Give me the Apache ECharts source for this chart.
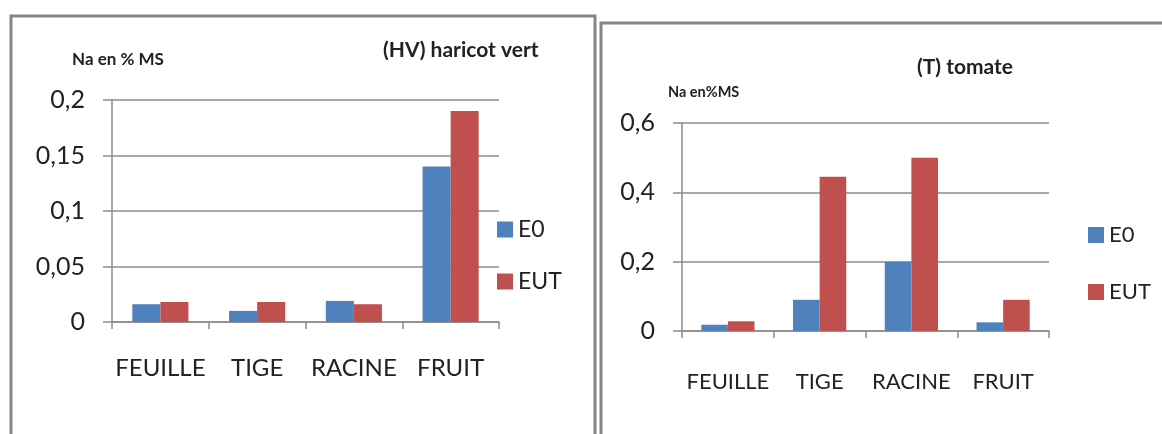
<!DOCTYPE html>
<html>
<head>
<meta charset="utf-8">
<script src="https://cdn.jsdelivr.net/npm/echarts@6/dist/echarts.min.js"></script>
<style>
  html, body { margin: 0; padding: 0; background: #fff; }
  #chart { width: 1162px; height: 434px; }
</style>
</head>
<body>
<div id="chart"></div>
<script>
// données (Na en % MS)
const categories = ['FEUILLE', 'TIGE', 'RACINE', 'FRUIT'];
const seriesNames = ['E0', 'EUT'];
const hvE0 = [0.016, 0.010, 0.019, 0.140];
const hvEUT = [0.018, 0.018, 0.016, 0.190];
const tE0 = [0.018, 0.090, 0.200, 0.025];
const tEUT = [0.028, 0.445, 0.500, 0.090];
const hvTicks = [0, 0.05, 0.1, 0.15, 0.2];
const tTicks = [0, 0.2, 0.4, 0.6];

const FONT = 'Lato, "Liberation Sans", sans-serif';
const GRID_COLOR = '#8c8c8c';
const BLUE = '#4f81bd';
const RED = '#c0504d';

const commaFmt = v => String(+v.toFixed(3)).replace('.', ',');

const makeX = (gridIndex, margin, fontSize) => ({
  type: 'category',
  gridIndex,
  data: categories,
  axisLine: { lineStyle: { color: GRID_COLOR, width: 1.5 } },
  axisTick: { show: true, length: 7, lineStyle: { color: GRID_COLOR, width: 1.5 } },
  axisLabel: { interval: 0, fontFamily: FONT, fontSize, color: '#222', margin }
});

const makeY = (gridIndex, ticks) => ({
  type: 'value',
  gridIndex,
  min: ticks[0],
  max: ticks[ticks.length - 1],
  interval: ticks[1] - ticks[0],
  axisLine: { show: true, lineStyle: { color: GRID_COLOR, width: 1.5 } },
  axisTick: { show: true, length: 9, lineStyle: { color: GRID_COLOR, width: 1.5 } },
  splitLine: { lineStyle: { color: GRID_COLOR, width: 1.5 } },
  axisLabel: { fontFamily: FONT, fontSize: 25, color: '#222', margin: 27, formatter: commaFmt }
});

const makeBar = (name, data, idx, color) => ({
  name,
  type: 'bar',
  xAxisIndex: idx,
  yAxisIndex: idx,
  data,
  barGap: '0%',
  barCategoryGap: '42%',
  itemStyle: { color },
  emphasis: { disabled: true }
});

const makeLegend = (left, top, gap, fontSize) => ({
  orient: 'vertical',
  left, top,
  padding: 0,
  itemGap: gap,
  itemWidth: 16,
  itemHeight: 16,
  icon: 'rect',
  data: seriesNames,
  selectedMode: false,
  textStyle: { fontFamily: FONT, fontSize, color: '#222' }
});

const chart = echarts.init(document.getElementById('chart'));

chart.setOption({
  animation: false,
  backgroundColor: '#fff',
  graphic: [
    { type: 'rect', shape: { x: 11, y: 16, width: 584, height: 460 },
      style: { fill: 'none', stroke: '#858585', lineWidth: 3 } },
    { type: 'rect', shape: { x: 601, y: 23, width: 600, height: 460 },
      style: { fill: 'none', stroke: '#858585', lineWidth: 3 } }
  ],
  title: [
    { text: '(HV) haricot vert', left: 383, top: 40, padding: 0,
      textStyle: { fontFamily: FONT, fontSize: 21, fontWeight: 'bold', color: '#222' } },
    { text: 'Na en % MS', left: 72, top: 51, padding: 0,
      textStyle: { fontFamily: FONT, fontSize: 17, fontWeight: 'bold', color: '#222' } },
    { text: '(T) tomate', left: 917, top: 57, padding: 0,
      textStyle: { fontFamily: FONT, fontSize: 21, fontWeight: 'bold', color: '#222' } },
    { text: 'Na en%MS', left: 668, top: 85, padding: 0,
      textStyle: { fontFamily: FONT, fontSize: 14.5, fontWeight: 'bold', color: '#222' } }
  ],
  legend: [makeLegend(497, 218, 29, 23), makeLegend(1088, 224, 35, 22)],
  grid: [
    { left: 112, width: 387, top: 100, height: 222 },
    { left: 682, width: 367, top: 123, height: 208 }
  ],
  xAxis: [makeX(0, 34, 24), makeX(1, 40, 22)],
  yAxis: [makeY(0, hvTicks), makeY(1, tTicks)],
  series: [
    makeBar('E0', hvE0, 0, BLUE),
    makeBar('EUT', hvEUT, 0, RED),
    makeBar('E0', tE0, 1, BLUE),
    makeBar('EUT', tEUT, 1, RED)
  ]
});
</script>
</body>
</html>
